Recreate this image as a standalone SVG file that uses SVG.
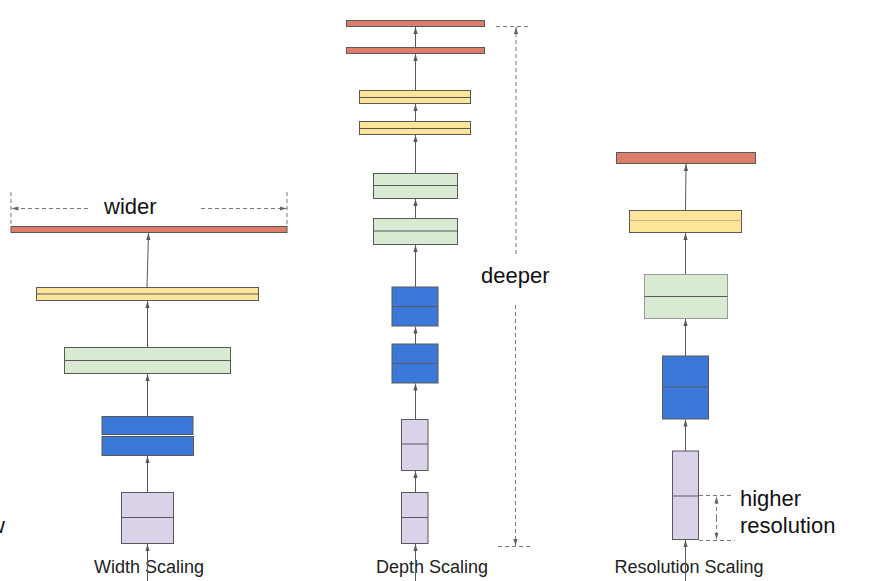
<svg xmlns="http://www.w3.org/2000/svg" width="875" height="581" viewBox="0 0 875 581">
<style>
.b{stroke:#595959;stroke-width:1}
.r{fill:#dd7e6b}.y{fill:#ffe599}.g{fill:#d9ead3}.bl{fill:#3c78d8}.p{fill:#d9d2e9}
.m{stroke:#595959;stroke-width:1;fill:none}
.c{stroke:#595959;stroke-width:1;fill:none;marker-end:url(#ah)}
.d{stroke:#777;stroke-width:1;fill:none;stroke-dasharray:4 3}
.lab{font-family:"Liberation Sans",Arial,sans-serif;font-size:18px;fill:#222;text-anchor:middle}
.big{font-family:"Liberation Sans",Arial,sans-serif;font-size:22px;fill:#111}
</style>
<defs>
<marker id="ah" markerUnits="userSpaceOnUse" markerWidth="7" markerHeight="6" viewBox="0 0 7 6" refX="7" refY="3" orient="auto">
<path d="M0,0.9 L7,3 L0,5.1 z" fill="#595959"/>
</marker>
<marker id="dh" markerUnits="userSpaceOnUse" markerWidth="7" markerHeight="6" viewBox="0 0 7 6" refX="7" refY="3" orient="auto">
<path d="M0,0.9 L7,3 L0,5.1 z" fill="#666"/>
</marker>
</defs>

<text class="big" x="-11" y="533">w</text>

<!-- Width scaling -->
<g id="w-red"><rect class="b r" x="11" y="226.5" width="276" height="6"/></g>
<g id="w-yellow"><rect class="b y" x="36.5" y="287.5" width="222" height="13"/><line class="m" x1="36.5" y1="294" x2="258.5" y2="294"/></g>
<g id="w-green"><rect class="b g" x="64.5" y="347.5" width="166" height="26"/><line class="m" x1="64.5" y1="360.5" x2="230.5" y2="360.5"/></g>
<g id="w-blue"><rect class="b bl" x="102" y="416.5" width="91" height="18"/><rect class="b bl" x="102" y="436.5" width="91.5" height="19"/></g>
<g id="w-purple"><rect class="b p" x="121.5" y="492.5" width="52" height="51"/><line class="m" x1="121.5" y1="517.5" x2="173.5" y2="517.5"/></g>
<g id="w-wider">
<line class="d" x1="11" y1="192" x2="11" y2="226"/>
<line class="d" x1="287" y1="192" x2="287" y2="226"/>
<line class="d" x1="88" y1="208.5" x2="11.5" y2="208.5" style="marker-end:url(#dh)"/>
<line class="d" x1="201" y1="208.5" x2="286.5" y2="208.5" style="marker-end:url(#dh)"/>
<text class="big" x="104" y="214">wider</text>
</g>
<text class="lab" x="149" y="573">Width Scaling</text>

<!-- Depth scaling -->
<g id="d-red1"><rect class="b r" x="346.5" y="20.5" width="138" height="6"/></g>
<g id="d-red2"><rect class="b r" x="346.5" y="47.5" width="138" height="6"/></g>
<g id="d-yellow1"><rect class="b y" x="359.5" y="90.5" width="111" height="13"/><line class="m" x1="359.5" y1="97.5" x2="470.5" y2="97.5"/></g>
<g id="d-yellow2"><rect class="b y" x="359.5" y="121.5" width="111" height="13"/><line class="m" x1="359.5" y1="128.5" x2="470.5" y2="128.5"/></g>
<g id="d-green1"><rect class="b g" x="373.5" y="173.5" width="84" height="25"/><line class="m" x1="373.5" y1="185.5" x2="457.5" y2="185.5"/></g>
<g id="d-green2"><rect class="b g" x="373.5" y="218.5" width="84" height="26"/><line class="m" x1="373.5" y1="231" x2="457.5" y2="231"/></g>
<g id="d-blue1"><rect class="b bl" x="392" y="287" width="46" height="39"/><line class="m" x1="392" y1="306.5" x2="438" y2="306.5"/></g>
<g id="d-blue2"><rect class="b bl" x="392" y="344" width="46" height="39"/><line class="m" x1="392" y1="363.5" x2="438" y2="363.5"/></g>
<g id="d-purple1"><rect class="b p" x="401.5" y="419.5" width="26.5" height="51"/><line class="m" x1="401.5" y1="444" x2="428" y2="444"/></g>
<g id="d-purple2"><rect class="b p" x="401.5" y="492.5" width="26.5" height="51"/><line class="m" x1="401.5" y1="517.5" x2="428" y2="517.5"/></g>
<g id="d-deeper">
<line class="d" x1="496" y1="26.5" x2="531" y2="26.5"/>
<line class="d" x1="516" y1="254" x2="516" y2="27" style="marker-end:url(#dh)"/>
<line class="d" x1="515.5" y1="305" x2="515.5" y2="546" style="marker-end:url(#dh)"/>
<line class="d" x1="498" y1="546.5" x2="533" y2="546.5"/>
<text class="big" x="481" y="283">deeper</text>
</g>
<text class="lab" x="432" y="573">Depth Scaling</text>

<!-- Resolution scaling -->
<g id="r-red"><rect class="b r" x="616.5" y="152.5" width="139" height="11"/></g>
<g id="r-yellow"><rect class="b y" x="629.5" y="210.5" width="112" height="22"/><line x1="629.5" y1="220.5" x2="741.5" y2="220.5" stroke="#c9b27a" stroke-width="1"/></g>
<g id="r-green"><rect class="g" x="644.5" y="274.5" width="83" height="44" stroke="#9a9a9a" stroke-width="1"/><line class="m" x1="644.5" y1="296.5" x2="727.5" y2="296.5"/></g>
<g id="r-blue"><rect class="b bl" x="662.5" y="356" width="46" height="63"/><line class="m" x1="662.5" y1="387" x2="708.5" y2="387"/></g>
<g id="r-purple"><rect class="b p" x="672.5" y="451" width="26" height="88.5"/><line class="m" x1="672.5" y1="496" x2="698.5" y2="496"/></g>
<g id="r-higher">
<line class="d" x1="699" y1="495.5" x2="734" y2="495.5"/>
<line class="d" x1="699" y1="540.5" x2="735" y2="540.5"/>
<line class="d" x1="716.5" y1="518" x2="716.5" y2="496.5" style="marker-end:url(#dh)"/>
<line class="d" x1="716.5" y1="518" x2="716.5" y2="539.5" style="marker-end:url(#dh)"/>
<text class="big" x="740" y="506">higher</text>
<text class="big" x="740" y="533">resolution</text>
</g>
<text class="lab" x="689" y="573">Resolution Scaling</text>

<g id="connectors">
<line class="c" x1="147" y1="287" x2="148.5" y2="233"/>
<line class="c" x1="147.5" y1="347" x2="147.5" y2="301"/>
<line class="c" x1="147.5" y1="416" x2="147.5" y2="374"/>
<line class="c" x1="147.5" y1="492" x2="147.5" y2="456"/>
<line class="c" x1="147.5" y1="581" x2="147.5" y2="544"/>

<line class="c" x1="415.5" y1="47" x2="415.5" y2="27"/>
<line class="c" x1="415.5" y1="90" x2="415.5" y2="54"/>
<line class="c" x1="415.5" y1="121" x2="415.5" y2="104"/>
<line class="c" x1="415.5" y1="173" x2="415.5" y2="135"/>
<line class="c" x1="415.5" y1="218" x2="415.5" y2="199"/>
<line class="c" x1="415.5" y1="287" x2="415.5" y2="245"/>
<line class="c" x1="415.5" y1="344" x2="415.5" y2="326.5"/>
<line class="c" x1="415.5" y1="419" x2="415.5" y2="383.5"/>
<line class="c" x1="415.5" y1="492" x2="415.5" y2="471"/>
<line class="c" x1="415.5" y1="581" x2="415.5" y2="544"/>

<line class="c" x1="685.5" y1="210" x2="686" y2="164"/>
<line class="c" x1="685.5" y1="274" x2="685.5" y2="233"/>
<line class="c" x1="685.5" y1="356" x2="685.5" y2="319"/>
<line class="c" x1="685.5" y1="451" x2="685.5" y2="419.5"/>
<line class="c" x1="685.5" y1="581" x2="685.5" y2="540"/>
</g>
</svg>
